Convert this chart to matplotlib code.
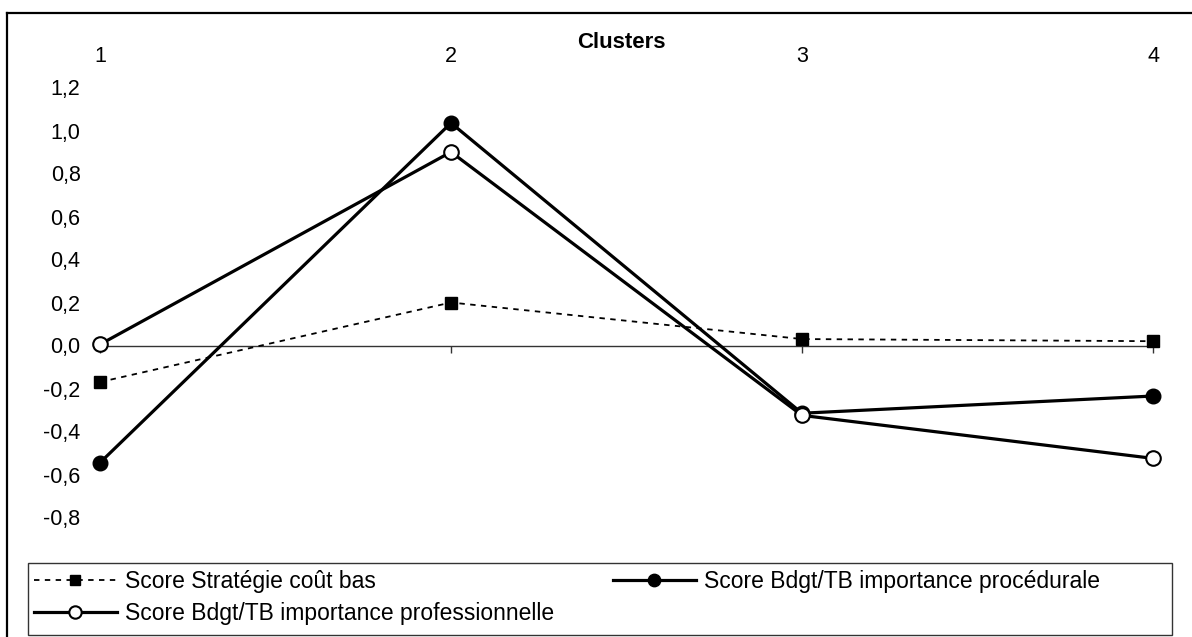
import matplotlib
matplotlib.use("Agg")
import matplotlib.pyplot as plt
from matplotlib.lines import Line2D
from matplotlib.patches import Rectangle

plt.rcParams['font.family'] = ['Liberation Sans', 'DejaVu Sans']

# ---- data ----
clusters = [1, 2, 3, 4]
cluster_labels = ["1", "2", "3", "4"]
score_strategie = [-0.17, 0.20, 0.03, 0.02]
score_procedurale = [-0.545, 1.035, -0.315, -0.235]
score_professionnelle = [0.005, 0.90, -0.325, -0.525]
series_names = ["Score Stratégie coût bas",
                "Score Bdgt/TB importance procédurale",
                "Score Bdgt/TB importance professionnelle"]
yticks = [-0.8, -0.6, -0.4, -0.2, 0.0, 0.2, 0.4, 0.6, 0.8, 1.0, 1.2]
x_title = "Clusters"

W, H = 1192, 637
fig = plt.figure(figsize=(W / 100, H / 100), dpi=100)

def fx(px):
    return px / W

def fy(py):
    return 1 - py / H

# axes: x 1->100px, 4->1153px ; y 1.2->87.5px, -0.8->517.5px
ax = fig.add_axes([fx(100), fy(517.5), fx(1153) - fx(100), fy(87.5) - fy(517.5)])
ax.set_xlim(1, 4)
ax.set_ylim(-0.8, 1.2)

l1, = ax.plot(clusters, score_strategie, color='black', lw=1.3, ls=(0, (3, 3)),
              marker='s', markersize=8, markerfacecolor='black',
              markeredgecolor='black', clip_on=False, zorder=3)
l2, = ax.plot(clusters, score_procedurale, color='black', lw=2.3, ls='-',
              marker='o', markersize=10.5, markerfacecolor='black',
              markeredgecolor='black', clip_on=False, zorder=4)
l3, = ax.plot(clusters, score_professionnelle, color='black', lw=2.3, ls='-',
              marker='o', markersize=10.5, markerfacecolor='white',
              markeredgecolor='black', markeredgewidth=1.5, clip_on=False, zorder=5)

# spines
for s in ['left', 'right', 'top']:
    ax.spines[s].set_visible(False)
ax.spines['bottom'].set_position(('data', 0))
ax.spines['bottom'].set_color('#333333')
ax.spines['bottom'].set_linewidth(1.0)

ax.set_xticks(clusters)
ax.set_xticklabels(cluster_labels)
ax.tick_params(axis='x', direction='out', length=5, width=1, color='#333333',
               bottom=True, top=False, labelbottom=False, labeltop=True,
               labelsize=15.5, pad=10)

ax.set_yticks(yticks)
ax.set_yticklabels([("%.1f" % v).replace('.', ',') for v in yticks])
ax.tick_params(axis='y', length=0, labelsize=15.5, pad=14)

fig.text(fx(621), fy(42), x_title, ha='center', va='center',
         fontsize=16, fontweight='bold')

# legend
leg = fig.legend([l1, l3, l2], [series_names[0], series_names[2], series_names[1]],
                 ncol=2, loc='center left', bbox_to_anchor=(fx(34), fy(597.5)),
                 bbox_transform=fig.transFigure, frameon=False, fontsize=16.5,
                 handlelength=3.6, handletextpad=0.35, columnspacing=2.6,
                 labelspacing=0.42, borderpad=0, borderaxespad=0, numpoints=1,
                 markerscale=0.85)

# legend frame
fig.add_artist(Rectangle((fx(28), fy(635)), fx(1172) - fx(28), fy(563) - fy(635),
                         transform=fig.transFigure, fill=False,
                         edgecolor='#333333', linewidth=1.0))

# outer chart frame (left and top visible)
fig.add_artist(Line2D([fx(6.5), fx(6.5)], [fy(12.5), fy(640)],
                      transform=fig.transFigure, color='black', lw=1.6))
fig.add_artist(Line2D([fx(6.5), fx(1195)], [fy(12.5), fy(12.5)],
                      transform=fig.transFigure, color='black', lw=1.6))

fig.savefig("out.png", dpi=100)
